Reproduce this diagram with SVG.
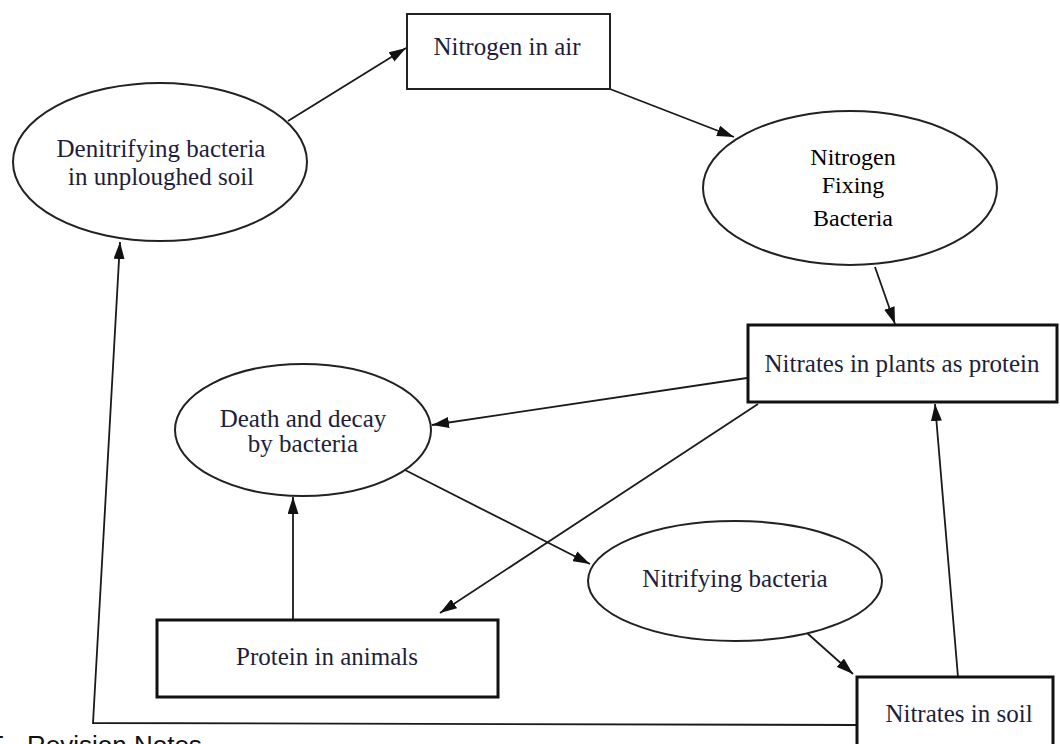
<svg xmlns="http://www.w3.org/2000/svg" width="1060" height="744" viewBox="0 0 1060 744">
  <style>
    .box { fill: #ffffff; stroke: #111111; stroke-width: 3; }
    .box-thin { fill: #ffffff; stroke: #222222; stroke-width: 2; }
    .oval { fill: #ffffff; stroke: #222222; stroke-width: 2; }
    .label { font-family: "Liberation Serif", "Times New Roman", serif; font-size: 25px; fill: #1e1e3c; text-anchor: middle; }
    .label-black { font-family: "Liberation Serif", "Times New Roman", serif; font-size: 24px; fill: #000000; text-anchor: middle; }
    .link { fill: none; stroke: #1a1a1a; stroke-width: 1.8; marker-end: url(#arrow); }
    .link-plain { fill: none; stroke: #333333; stroke-width: 1.8; }
    .footer { font-family: "Liberation Sans", Arial, sans-serif; font-size: 26px; fill: #111111; }
  </style>
  <defs>
    <marker id="arrow" markerUnits="userSpaceOnUse" markerWidth="17" markerHeight="11" refX="17" refY="5.5" orient="auto">
      <path d="M0,0 L17,5.5 L0,11 Z" fill="#111111"/>
    </marker>
  </defs>

  <rect width="1060" height="744" fill="#ffffff"/>

  <!-- connectors -->
  <g id="connectors">
    <line class="link" x1="288" y1="121" x2="406" y2="48"/>
    <line class="link" x1="610" y1="89" x2="734" y2="137"/>
    <line class="link" x1="875" y1="267" x2="895" y2="324"/>
    <line class="link" x1="747" y1="378" x2="432" y2="425"/>
    <line class="link" x1="758" y1="404" x2="440" y2="613"/>
    <line class="link" x1="405" y1="470" x2="590" y2="564"/>
    <line class="link" x1="293" y1="620" x2="293" y2="497"/>
    <line class="link" x1="807" y1="633" x2="853" y2="674"/>
    <line class="link" x1="958" y1="677" x2="935" y2="404"/>
    <polyline class="link" points="857,725 93,723 120,242"/>
  </g>

  <!-- nodes -->
  <g id="nitrogen-in-air">
    <rect class="box-thin" x="407" y="14" width="203" height="75"/>
    <text class="label" x="507" y="55">Nitrogen in air</text>
  </g>

  <g id="denitrifying-bacteria">
    <ellipse class="oval" cx="160" cy="162" rx="147" ry="79"/>
    <text class="label" x="161" y="157">Denitrifying bacteria</text>
    <text class="label" x="161" y="185">in unploughed soil</text>
  </g>

  <g id="nitrogen-fixing-bacteria">
    <ellipse class="oval" cx="850" cy="188" rx="147" ry="77"/>
    <text class="label-black" x="853" y="165">Nitrogen</text>
    <text class="label-black" x="853" y="193">Fixing</text>
    <text class="label-black" x="853" y="226">Bacteria</text>
  </g>

  <g id="nitrates-in-plants">
    <rect class="box" x="748" y="325" width="309" height="77"/>
    <text class="label" x="902" y="372">Nitrates in plants as protein</text>
  </g>

  <g id="death-and-decay">
    <ellipse class="oval" cx="303" cy="430" rx="128" ry="66"/>
    <text class="label" x="303" y="427">Death and decay</text>
    <text class="label" x="303" y="452">by bacteria</text>
  </g>

  <g id="nitrifying-bacteria">
    <ellipse class="oval" cx="735" cy="581" rx="147" ry="60"/>
    <text class="label" x="735" y="587">Nitrifying bacteria</text>
  </g>

  <g id="protein-in-animals">
    <rect class="box" x="157" y="620" width="341" height="77"/>
    <text class="label" x="327" y="665">Protein in animals</text>
  </g>

  <g id="nitrates-in-soil">
    <rect class="box" x="857" y="677" width="196" height="82"/>
    <text class="label" x="959" y="722">Nitrates in soil</text>
  </g>

  <text class="footer" x="-12" y="754">F - Revision Notes</text>
</svg>
